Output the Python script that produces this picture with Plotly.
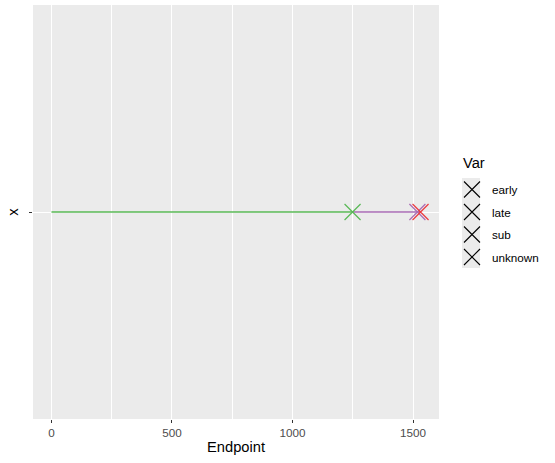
import plotly.graph_objects as go

# ---- data ----
row_label = [""]                     # single y category (blank tick label)
seg_var = ["sub", "unknown", "early"]
seg_start = [0, 1249, 1518]
seg_end = [1249, 1518, 1531]
seg_color = ["#58B855", "#A96BB4", "#EC3A3F"]
legend_vars = ["early", "late", "sub", "unknown"]
x_ticks = [0, 500, 1000, 1500]

fig = go.Figure()
ypos = [1] * len(row_label)

for s, e, c, v in zip(seg_start, seg_end, seg_color, seg_var):
    fig.add_trace(go.Scatter(x=[s, e], y=[1, 1], mode="lines",
                             line=dict(color=c, width=1.5),
                             showlegend=False, hoverinfo="skip"))
for e, c, v in zip(seg_end, seg_color, seg_var):
    fig.add_trace(go.Scatter(x=[e], y=[1], mode="markers",
                             marker=dict(symbol="x-thin-open", size=16, color=c,
                                         line=dict(color=c, width=1.2)),
                             showlegend=False, name=v))

for i, v in enumerate(legend_vars):
    fig.add_trace(go.Scatter(x=[None], y=[None], mode="markers", name=v,
                             legendgroup=v,
                             marker=dict(symbol="x-thin-open", size=16, color="black",
                                         line=dict(color="black", width=1.1))))

L, R, T, B = 33, 439, 5, 419
W, H = 555, 463
pw, ph = R - L, B - T

def px(x):
    return (x - L) / pw

def py(y):
    return (B - y) / ph

xmin, xmax = 0, max(seg_end)
pad = (xmax - xmin) * 0.05

fig.update_layout(
    width=W, height=H,
    margin=dict(l=L, r=W - R, t=T, b=H - B),
    paper_bgcolor="white", plot_bgcolor="#EBEBEB",
    font=dict(family="Liberation Sans, Arial, sans-serif", color="black"),
    xaxis=dict(range=[xmin - pad, xmax + pad], tickvals=x_ticks,
               ticks="outside", ticklen=3, tickcolor="#333333", tickwidth=1.1,
               tickfont=dict(size=11.7, color="#4D4D4D"),
               showgrid=True, gridcolor="white", gridwidth=1.1,
               minor=dict(dtick=250, showgrid=True, gridcolor="white", gridwidth=0.5),
               zeroline=False, showline=False,
               title=dict(text="Endpoint", font=dict(size=14.7), standoff=3)),
    yaxis=dict(range=[0.4, 1.6], tickvals=ypos, ticktext=row_label,
               ticks="outside", ticklen=3, tickcolor="#333333", tickwidth=1.1,
               showgrid=True, gridcolor="white", gridwidth=1.1,
               zeroline=False, showline=False,
               title=dict(text="x", font=dict(size=14.7), standoff=4)),
    legend=dict(x=px(452), y=py(175), xanchor="left", yanchor="top",
                font=dict(size=11.7), tracegroupgap=3.5, traceorder="grouped",
                bgcolor="rgba(0,0,0,0)"),
    annotations=[dict(text="Var", xref="paper", yref="paper", x=px(461), y=py(163),
                      xanchor="left", yanchor="middle", showarrow=False,
                      font=dict(size=14.7))],
    shapes=[dict(type="rect", xref="paper", yref="paper",
                 x0=px(462), x1=px(480), y0=py(268), y1=py(178),
                 fillcolor="#EBEBEB", line=dict(width=0), layer="below")],
)

fig.write_html("out.html")
